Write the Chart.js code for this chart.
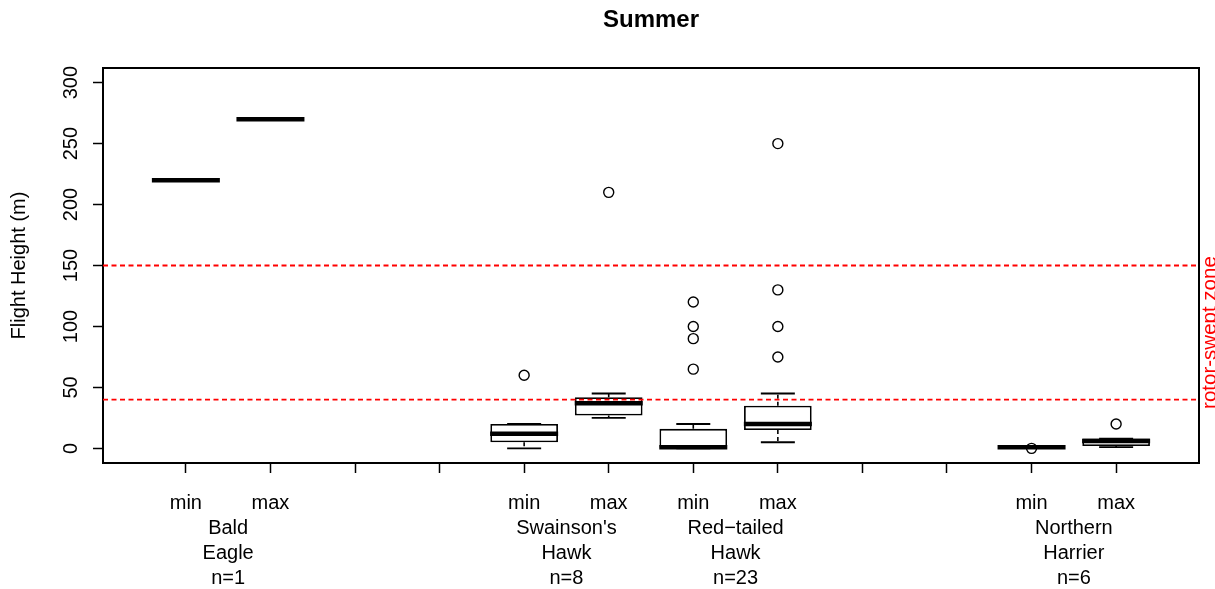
<!DOCTYPE html>
<html>
<head>
<meta charset="utf-8">
<script src="https://cdn.jsdelivr.net/npm/chart.js@4.4.1/dist/chart.umd.min.js"></script>
<style>
html,body{margin:0;padding:0;background:#fff;}
canvas{display:block;}
</style>
</head>
<body>
<canvas id="c" width="1215" height="589"></canvas>
<script>
// ---- data ----
const chartTitle = 'Summer';
const yTitle = 'Flight Height (m)';
const zoneLabel = 'rotor-swept zone';
const slotTickLabels = ['min','max','','','min','max','min','max','','','min','max'];
const slotPositions = [1,2,3,4,5,6,7,8,9,10,11,12];
const speciesPositions = [1.5, 5.5, 7.5, 11.5];
const speciesLabels = [["Bald","Eagle","n=1"],["Swainson's","Hawk","n=8"],["Red\u2212tailed","Hawk","n=23"],["Northern","Harrier","n=6"]];
const yTicks = [0,50,100,150,200,250,300];
const zoneLow = 40;
const zoneHigh = 150;

const boxPositions = [1, 2, 5, 6, 7, 8, 11, 12];
const whiskerLow  = [220, 270,  0, 25,  0,  5, 1, 1];
const q1          = [220, 270,  5, 27,  0, 15, 1, 2];
const medians     = [220, 270, 12, 37,  1, 20, 1, 6];
const q3          = [220, 270, 20, 42, 16, 35, 1, 8];
const whiskerHigh = [220, 270, 20, 45, 20, 45, 1, 8];
const outlierPos  = [5, 6, 7, 7, 7, 7, 8, 8, 8, 8, 11, 12];
const outlierVals = [60, 210, 65, 90, 100, 120, 75, 100, 130, 250, 0, 20];

// axis extents (R style: range extended by 4%)
const xMin = 0.02, xMax = 12.98;
const yMin = -12, yMax = 312;

const FONT = "'Liberation Sans', Arial, Helvetica, sans-serif";
const AXIS_SIZE = 20;

// ---- derived datasets ----
const boxData = boxPositions.map((x,i)=>({x:x, y:[q1[i], q3[i]]}));
const medianData = boxPositions.map((x,i)=>({x:x, y:medians[i]}));
const stapleData = [];
const whiskerData = [];
boxPositions.forEach((x,i)=>{
  stapleData.push({x:x, y:whiskerLow[i]});
  stapleData.push({x:x, y:whiskerHigh[i]});
  whiskerData.push({x:x, y:q3[i]}, {x:x, y:whiskerHigh[i]}, {x:x, y:null});
  whiskerData.push({x:x, y:q1[i]}, {x:x, y:whiskerLow[i]}, {x:x, y:null});
});
const outlierData = outlierPos.map((x,i)=>({x:x, y:outlierVals[i]}));

const zonePlugin = {
  id: 'zoneText',
  afterDraw(chart){
    const ctx = chart.ctx;
    const y = chart.scales.y.getPixelForValue((zoneLow + zoneHigh)/2);
    const x = chart.chartArea.right + 17;
    ctx.save();
    ctx.translate(x, y);
    ctx.rotate(-Math.PI/2);
    ctx.fillStyle = '#ff0000';
    ctx.font = '20.5px ' + FONT;
    ctx.textAlign = 'center';
    ctx.textBaseline = 'alphabetic';
    ctx.fillText(zoneLabel, 0, 0);
    ctx.restore();
  }
};

const frameAxis = (pos, axis) => ({
  type: 'linear', position: pos, axis: axis, offset: false,
  min: axis === 'x' ? xMin : yMin, max: axis === 'x' ? xMax : yMax,
  ticks: {display: false},
  grid: {display: true, drawOnChartArea: false, drawTicks: false, offset: false},
  border: {display: true, color: '#000', width: 2},
  afterFit(s){ if (axis === 'x') { s.height = 0; s.paddingLeft = 0; s.paddingRight = 0; } else { s.width = 0; s.paddingTop = 0; s.paddingBottom = 0; } }
});

new Chart(document.getElementById('c'), {
  data: {
    datasets: [
      {type:'line', data:[{x:xMin,y:zoneHigh},{x:xMax,y:zoneHigh}], borderColor:'#ff0000', borderWidth:1.8, borderDash:[5,3.5], pointRadius:0, order:0},
      {type:'line', data:[{x:xMin,y:zoneLow},{x:xMax,y:zoneLow}], borderColor:'#ff0000', borderWidth:1.8, borderDash:[5,3.5], pointRadius:0, order:1},
      {type:'scatter', data: medianData, pointStyle:'line', pointRadius:34, borderColor:'#000', borderWidth:4.5, order:2},
      {type:'scatter', data: stapleData, pointStyle:'line', pointRadius:17, borderColor:'#000', borderWidth:1.8, order:3},
      {type:'scatter', data: outlierData, pointStyle:'circle', pointRadius:5, borderColor:'#000', backgroundColor:'rgba(0,0,0,0)', borderWidth:1.4, order:4},
      {type:'line', data: whiskerData, borderColor:'#000', borderWidth:1.6, borderDash:[4,3], pointRadius:0, spanGaps:false, order:5},
      {type:'bar', data: boxData, backgroundColor:'#fff', borderColor:'#000', borderWidth:1.8, borderSkipped:false, categoryPercentage:1.0, barPercentage:0.8, order:6}
    ]
  },
  options: {
    responsive: false,
    animation: false,
    events: [],
    layout: {autoPadding: false, padding: {left:0, right:16, top:0, bottom:0}},
    plugins: {
      legend: {display:false},
      tooltip: {enabled:false},
      title: {
        display: true, text: chartTitle, fullSize: false,
        color: '#000', font: {family: FONT, size: 24, weight: 'bold', lineHeight: 1.2},
        padding: {top: 6, bottom: 33.2}
      }
    },
    scales: {
      x: {
        type: 'linear', position: 'bottom', min: xMin, max: xMax, offset: false,
        afterBuildTicks(s){ s.ticks = slotPositions.map(v=>({value:v})); },
        ticks: {
          callback(v, i){ return slotTickLabels[slotPositions.indexOf(v)] ?? ''; },
          color:'#000', font:{family: FONT, size: AXIS_SIZE, lineHeight: '25px'},
          padding: 18, maxRotation: 0, minRotation: 0, autoSkip: false
        },
        grid: {display: true, drawOnChartArea: false, drawTicks: true, tickLength: 10, color:'#000', tickWidth: 1.5, offset: false},
        border: {display: true, color:'#000', width: 2},
        afterFit(s){ s.height = 51; s.paddingLeft = 0; s.paddingRight = 0; }
      },
      x2: {
        type: 'linear', position: 'bottom', axis: 'x', min: xMin, max: xMax, offset: false,
        afterBuildTicks(s){ s.ticks = speciesPositions.map(v=>({value:v})); },
        ticks: {
          callback(v){ return speciesLabels[speciesPositions.indexOf(v)] ?? ''; },
          color:'#000', font:{family: FONT, size: AXIS_SIZE, lineHeight: '25px'},
          padding: 2, maxRotation: 0, minRotation: 0, autoSkip: false
        },
        grid: {display: false, drawTicks: false, offset: false},
        border: {display: false},
        afterFit(s){ s.height = 75; s.paddingLeft = 0; s.paddingRight = 0; }
      },
      xTop: frameAxis('top','x'),
      yRight: frameAxis('right','y'),
      y: {
        type: 'linear', position: 'left', min: yMin, max: yMax,
        afterBuildTicks(s){ s.ticks = yTicks.map(v=>({value:v})); },
        ticks: {
          color:'#000', font:{family: FONT, size: AXIS_SIZE},
          minRotation: 90, maxRotation: 90, crossAlign: 'center', padding: 5, autoSkip: false
        },
        grid: {display: true, drawOnChartArea: false, drawTicks: true, tickLength: 10, color:'#000', tickWidth: 1.5},
        border: {display: true, color:'#000', width: 2},
        title: {display: true, text: yTitle, color:'#000', font:{family: FONT, size: AXIS_SIZE, lineHeight: 1.2}, padding: {top: 7, bottom: 0}},
        afterFit(s){ s.width = 103; s.paddingTop = 0; s.paddingBottom = 0; }
      }
    }
  },
  plugins: [zonePlugin]
});
</script>
</body>
</html>
